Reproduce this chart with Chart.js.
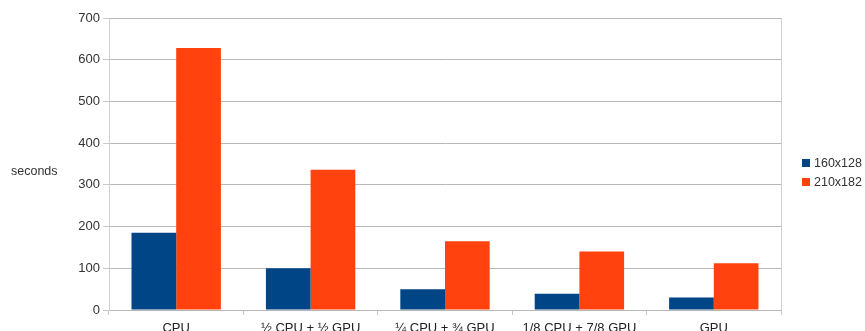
<!DOCTYPE html>
<html>
<head>
<meta charset="utf-8">
<script src="https://cdn.jsdelivr.net/npm/chart.js@4.4.0/dist/chart.umd.min.js"></script>
<style>
  html, body { margin: 0; padding: 0; background: #fff; overflow: hidden; }
  #wrap { position: relative; width: 865px; height: 331px; }
  #y-title { position: absolute; left: 11px; top: 164px; font: 12.5px "Liberation Sans", Arial, sans-serif; color: #333; }
  #legend { position: absolute; left: 802px; top: 155px; font: 12.5px "Liberation Sans", Arial, sans-serif; color: #333; }
  .item { height: 19px; line-height: 17px; white-space: nowrap; }
  .swatch { display: inline-block; width: 8px; height: 8px; margin-right: 4px; vertical-align: 0px; }
</style>
</head>
<body>
<div id="wrap">
  <canvas id="chart" width="865" height="331"></canvas>
  <div id="y-title">seconds</div>
  <div id="legend"></div>
</div>
<script>
const categories = ["CPU", "½ CPU + ½ GPU", "¼ CPU + ¾ GPU", "1/8 CPU + 7/8 GPU", "GPU"];
const seriesNames = ["160x128", "210x182"];
const small = [185, 100, 50, 39, 30];
const large = [628, 336, 165, 140, 112];
const yTicks = [0, 100, 200, 300, 400, 500, 600, 700];

const COLORS = ["#004586", "#ff420e"];
const FONT = "'Liberation Sans', Arial, sans-serif";

const legendEl = document.getElementById("legend");
seriesNames.forEach((name, i) => {
  const row = document.createElement("div");
  row.className = "item";
  row.innerHTML = `<span class="swatch" style="background:${COLORS[i]}"></span>${name}`;
  legendEl.appendChild(row);
});

const ctx = document.getElementById("chart").getContext("2d");
new Chart(ctx, {
  type: "bar",
  data: {
    labels: categories,
    datasets: [
      { label: seriesNames[0], data: small, backgroundColor: COLORS[0], borderWidth: 0 },
      { label: seriesNames[1], data: large, backgroundColor: COLORS[1], borderWidth: 0 },
    ],
  },
  options: {
    responsive: false,
    animation: false,
    events: [],
    layout: { padding: { top: 18, right: 84, left: 0, bottom: 0 } },
    datasets: { bar: { barPercentage: 1, categoryPercentage: 0.665 } },
    scales: {
      x: {
        afterFit: (scale) => { scale.height = 21; },
        grid: {
          offset: true,
          tickLength: 5,
          color: (c) => (c.type === "scale" ? "#d0d0d0" : "transparent"),
          tickColor: "#c8c8c8",
        },
        border: { display: false },
        ticks: { color: "#222", font: { family: FONT, size: 13 }, padding: 6, maxRotation: 0, autoSkip: false },
      },
      y: {
        min: 0,
        max: 700,
        afterFit: (scale) => { scale.width = 109; },
        afterBuildTicks: (scale) => { scale.ticks = yTicks.map((v) => ({ value: v })); },
        grid: { color: "#b8b8b8", tickLength: 6, tickColor: "#c8c8c8" },
        border: { color: "#d0d0d0" },
        ticks: { color: "#333", font: { family: FONT, size: 13 }, padding: 3 },
      },
    },
    plugins: {
      legend: { display: false },
      tooltip: { enabled: false },
    },
  },
});
</script>
</body>
</html>
